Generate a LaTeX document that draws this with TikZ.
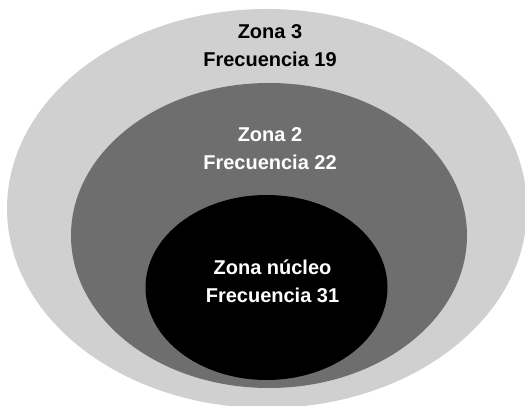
\documentclass[tikz,border=0pt]{standalone}
\usepackage{fontspec}
\setmainfont{Liberation Sans}
\definecolor{zonethree}{RGB}{208,208,208}
\definecolor{zonetwo}{RGB}{110,110,110}
\begin{document}
\begin{tikzpicture}[x=1pt,y=-1pt,
  lbl/.style={font=\bfseries\fontsize{20}{27.5}\selectfont, align=center, inner sep=0pt}]
\useasboundingbox (0,0) rectangle (525,406);
\begin{scope}
\clip (0,0) rectangle (525,406);
\fill[zonethree] (267,208.5) ellipse [x radius=260, y radius=199.5];
\fill[zonetwo] (269,235.5) ellipse [x radius=198, y radius=152.5];
\fill[black] (266.5,287.5) ellipse [x radius=121, y radius=92.5];
\end{scope}
\node[lbl, text=black] (z3) at (270,45.5) {Zona 3\\Frecuencia 19};
\node[lbl, text=white] (z2) at (270,148.5) {Zona 2\\Frecuencia 22};
\node[lbl, text=white] (z1) at (272.5,281.5) {Zona núcleo\\Frecuencia 31};
\end{tikzpicture}
\end{document}
